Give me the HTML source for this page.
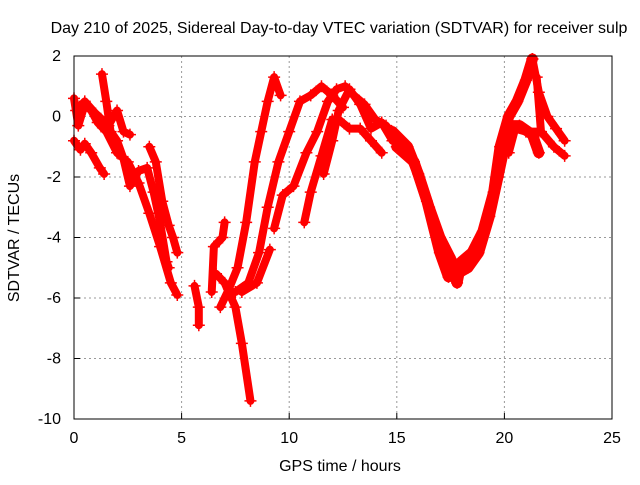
<!DOCTYPE html>
<html><head><meta charset="utf-8"><style>
body{margin:0;background:#fff;font-family:"Liberation Sans",sans-serif}
svg text{font-family:"Liberation Sans",sans-serif;font-size:16px;fill:#000}
</style></head><body>
<svg id="c" width="640" height="480">
<text x="339" y="33" text-anchor="middle">Day 210 of 2025, Sidereal Day-to-day VTEC variation (SDTVAR) for receiver sulp</text>
<text x="340" y="471" text-anchor="middle">GPS time / hours</text>
<text transform="translate(19,238) rotate(-90)" text-anchor="middle">SDTVAR / TECUs</text>
<g id="grid"></g>
<g id="data"></g>
<rect x="74" y="56" width="538" height="363" fill="none" stroke="#000" stroke-width="1"/>
</svg>
<script>
const xTicks=[0,5,10,15,20,25];
const yTicks=[2,0,-2,-4,-6,-8,-10];
const traceA=[[0,0.6],[0.2,-0.3],[0.5,0.4],[0.8,0.2],[1.1,-0.2],[1.5,-0.5],[2,-1.2],[2.5,-1.5],[3,-2.2],[3.5,-3.2],[4,-4.3],[4.5,-5.5],[4.8,-5.9]];
const traceB=[[0,-0.8],[0.3,-1.1],[0.5,-0.9],[0.8,-1.2],[1.2,-1.7],[1.4,-1.9]];
const traceC=[[1.3,1.4],[1.5,0.5],[1.7,-0.5],[2,-0.8],[2.3,-1.4],[2.6,-2.3],[3,-1.8],[3.4,-1.7],[3.7,-2.5],[4,-3.5],[4.3,-4.8],[4.4,-5.0]];
const traceD=[[0.1,0.2],[0.5,0.5],[1,0.1],[1.6,-0.3],[2,0.2],[2.3,-0.5],[2.6,-0.6]];
const traceE=[[3.5,-1.0],[3.8,-1.5],[4.1,-2.8],[4.4,-3.6],[4.6,-4.0],[4.8,-4.5]];
const traceF=[[5.6,-5.6],[5.8,-6.3],[5.8,-6.9]];
const traceG=[[6.4,-5.8],[6.5,-4.3],[6.9,-4.0],[7.0,-3.5]];
const traceH=[[6.6,-5.2],[7.0,-5.5],[7.5,-6.3],[7.8,-7.5],[8.2,-9.4]];
const traceI=[[6.8,-6.3],[7.2,-5.7],[7.6,-5.0],[8.0,-3.5],[8.4,-1.5],[8.7,-0.5],[9.0,0.5],[9.3,1.3],[9.6,0.7]];
const traceJ=[[7.5,-5.8],[8.1,-5.5],[8.6,-4.5],[9,-3],[9.5,-1.5],[10,-0.5],[10.5,0.5],[11,0.7],[11.5,1.0],[12,0.7],[12.5,0.3]];
const traceK=[[7.8,-5.8],[8.5,-5.5],[9.1,-4.4]];
const traceL=[[9.3,-3.7],[9.7,-2.6],[10.2,-2.3],[10.8,-1.2],[11.3,-0.5],[11.8,0.5],[12.2,0.9],[12.6,1.0],[13,0.7],[13.5,0.4],[14,-0.1],[14.5,-0.3],[15,-0.8]];
const traceM=[[10.7,-3.5],[11,-2.5],[11.5,-1.3],[12,-0.1],[12.3,-0.1],[12.8,-0.4],[13.3,-0.4],[13.8,-0.8],[14.3,-1.2]];
const traceN=[[11.6,-1.9],[12.0,-0.8],[12.3,0.2],[12.8,0.9],[13.3,0.4],[13.8,-0.4],[14.3,-0.2],[14.8,-0.8]];
const traceO=[[14.8,-0.5],[15.5,-1],[16,-1.9],[16.5,-3.0],[17,-4.0],[17.5,-4.7],[17.8,-5.5],[18,-4.8],[18.5,-4.5],[19,-3.8],[19.5,-2.5],[19.8,-1.0],[20.2,0],[20.6,0.5],[21,1.2],[21.3,1.9]];
const traceP=[[15,-1.0],[15.8,-1.5],[16.4,-2.8],[17,-4.5],[17.4,-5.3],[17.8,-5.2],[18.3,-5.0],[18.8,-4.5],[19.3,-3.3],[19.7,-2.0],[20,-1.0],[20.3,-0.3],[20.7,-0.3],[21.3,-0.6],[21.6,-1.2]];
const traceQ=[[21.3,1.9],[21.6,0.8],[22,0],[22.4,-0.4],[22.8,-0.8]];
const traceR=[[21.5,1.3],[21.7,-0.5],[22.3,-1.0],[22.8,-1.3]];
const traceS=[[20.2,-1.2],[20.5,-0.4],[21,-0.5],[21.6,-0.5]];
const traces=[traceA,traceB,traceC,traceD,traceE,traceF,traceG,traceH,traceI,traceJ,traceK,traceL,traceM,traceN,traceO,traceP,traceQ,traceR,traceS];
const thick=[14,15];
const X0=74,X1=612,Y0=419,Y1=56;
const sx=h=>X0+(h-0)/(25-0)*(X1-X0);
const sy=v=>Y0-(v+10)/12*(Y0-Y1);
const NS="http://www.w3.org/2000/svg";
const svg=document.getElementById('c'),grid=document.getElementById('grid'),dg=document.getElementById('data');
function mk(t,a,p){const e=document.createElementNS(NS,t);for(const k in a)e.setAttribute(k,a[k]);p.appendChild(e);return e;}
xTicks.forEach(t=>{const x=sx(t);
 if(t>0&&t<25){const l=mk('line',{x1:x,x2:x,y1:Y1,y2:Y0,stroke:'#999','stroke-dasharray':'2,3'},grid);
 
 }
 const tk=mk('line',{x1:x,x2:x,y1:Y0,y2:Y0-6,stroke:'#000'},grid);
 
 
 const tx=mk('text',{x:x,y:443,'text-anchor':'middle'},svg);tx.textContent=t;
 
 });
yTicks.forEach(t=>{const y=sy(t);
 if(t>-10&&t<2){const l=mk('line',{x1:X0,x2:X1,y1:y,y2:y,stroke:'#999','stroke-dasharray':'2,3'},grid);
 
 }
 const tk=mk('line',{x1:X0,x2:X0+6,y1:y,y2:y,stroke:'#000'},grid);
 
 
 const tx=mk('text',{x:61,y:y+5,'text-anchor':'end'},svg);tx.textContent=t;
 
 });
traces.forEach((tr,i)=>{
 const w=thick.includes(i)?11:8;
 const pl=mk('polyline',{points:tr.map(p=>sx(p[0])+','+sy(p[1])).join(' '),fill:'none',stroke:'#f00','stroke-width':w,'stroke-linejoin':'round','stroke-linecap':'round'},dg);
 
 
 tr.forEach(p=>{const x=sx(p[0]),y=sy(p[1]);
  const m=mk('path',{d:`M${x-6},${y}H${x+6}M${x},${y-6}V${y+6}`,stroke:'#f00','stroke-width':1.5},dg);
  
  });
});
</script>
</body></html>
